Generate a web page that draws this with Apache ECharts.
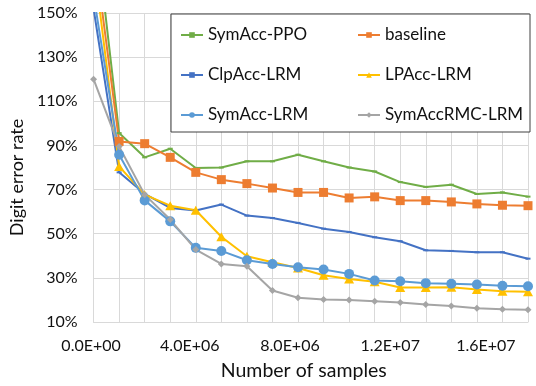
<!DOCTYPE html>
<html>
<head>
<meta charset="utf-8">
<script src="https://cdn.jsdelivr.net/npm/echarts@6/dist/echarts.min.js"></script>
<style>
html,body{margin:0;padding:0;background:#fff;}
#chart{width:536px;height:386px;}
</style>
</head>
<body>
<div id="chart"></div>
<script>
var samples = [0, 1e6, 2e6, 3e6, 4e6, 5e6, 6e6, 7e6, 8e6, 9e6, 10e6, 11e6, 12e6, 13e6, 14e6, 15e6, 16e6, 17e6];
var seriesNames = ['SymAcc-PPO', 'baseline', 'ClpAcc-LRM', 'LPAcc-LRM', 'SymAcc-LRM', 'SymAccRMC-LRM'];
var symAccPPO   = [196, 95.6, 84.6, 88.5, 79.8, 80.0, 82.8, 82.8, 85.8, 82.8, 80.0, 78.2, 73.4, 71.2, 72.2, 68.0, 68.7, 66.8];
var baseline    = [181, 91.8, 90.8, 84.6, 77.8, 74.5, 72.7, 70.7, 68.7, 68.7, 66.2, 66.7, 65.0, 65.0, 64.4, 63.5, 62.9, 62.7];
var clpAccLRM   = [152, 77.8, 68.1, 61.7, 60.5, 63.2, 58.2, 57.1, 54.9, 52.3, 50.8, 48.4, 46.6, 42.5, 42.2, 41.6, 41.6, 38.7];
var lpAccLRM    = [174, 80.5, 67.7, 62.7, 60.6, 48.6, 39.8, 37.1, 34.5, 31.2, 29.5, 28.2, 25.6, 25.6, 25.7, 24.7, 23.9, 23.7];
var symAccLRM   = [158, 85.8, 65.1, 55.6, 43.6, 42.2, 38.0, 36.3, 34.8, 33.8, 31.8, 28.8, 28.5, 27.6, 27.3, 27.0, 26.4, 26.2];
var symAccRMC   = [120, 89.5, 67.7, 56.4, 42.8, 36.3, 35.3, 24.3, 21.0, 20.2, 20.0, 19.4, 18.8, 17.9, 17.3, 16.2, 15.8, 15.5];
var yTicks = [10, 30, 50, 70, 90, 110, 130, 150];
var xLabelTicks = [0, 4e6, 8e6, 12e6, 16e6];

function pair(vals) { return samples.map(function (x, i) { return [x, vals[i]]; }); }
function sci(v) {
  var s = v.toExponential(1).toUpperCase();
  return s.replace(/E([+-])(\d)$/, 'E$10$2');
}

var FONT = 'Lato';
var TEXT = '#111';
// label nudges (right padding) to mimic the reference's label placement
var labelPad = [5, 12, 16, 20, 33];
var rich = {};
labelPad.forEach(function (p, i) {
  rich['s' + i] = { fontFamily: FONT, fontSize: 16, color: TEXT, padding: [0, p, 0, 0] };
});

var styles = [
  { data: symAccPPO, color: '#70AD47', symbol: 'rect', size: [5, 2] },
  { data: baseline,  color: '#ED7D31', symbol: 'rect', size: [9, 9] },
  { data: clpAccLRM, color: '#4472C4', symbol: 'rect', size: [5, 2] },
  { data: lpAccLRM,  color: '#FFC000', symbol: 'triangle', size: [10, 9] },
  { data: symAccLRM, color: '#5B9BD5', symbol: 'circle', size: 10 },
  { data: symAccRMC, color: '#A5A5A5', symbol: 'diamond', size: 7 }
];

var series = styles.map(function (s, i) {
  return {
    name: seriesNames[i],
    type: 'line',
    data: pair(s.data),
    symbol: s.symbol,
    symbolSize: s.size,
    showAllSymbol: true,
    clip: true,
    lineStyle: { color: s.color, width: 2 },
    itemStyle: { color: s.color },
    emphasis: { disabled: true },
    animation: false
  };
});

var legendCommon = {
  orient: 'vertical',
  top: 25,
  padding: 0,
  itemWidth: 22,
  itemHeight: 7,
  itemGap: 20,
  textStyle: { fontFamily: FONT, fontSize: 17, color: TEXT, lineHeight: 20 },
  selectedMode: false
};

var chart = echarts.init(document.getElementById('chart'));
chart.setOption({
  backgroundColor: '#fff',
  animation: false,
  grid: { left: 93, top: 13, width: 435, height: 309.5, containLabel: false },
  graphic: [{
    type: 'rect',
    shape: { x: 171, y: 14, width: 359, height: 118 },
    style: { fill: '#fff', stroke: '#404040', lineWidth: 1 },
    z: 90
  }],
  legend: [
    Object.assign({ left: 180, data: [seriesNames[0], seriesNames[2], seriesNames[4]], z: 100 }, legendCommon),
    Object.assign({ left: 357, data: [seriesNames[1], seriesNames[3], seriesNames[5]], z: 100 }, legendCommon)
  ],
  xAxis: {
    type: 'value',
    min: 0,
    max: 17e6,
    interval: 1e6,
    name: 'Number of samples',
    nameLocation: 'middle',
    nameGap: 39,
    nameTextStyle: { fontFamily: FONT, fontSize: 19.5, color: TEXT, padding: [0, 14, 0, 0] },
    axisLine: { show: true, lineStyle: { color: '#d9d9d9' } },
    axisTick: { show: false },
    splitLine: { show: true, lineStyle: { color: '#d9d9d9', width: 1 } },
    axisLabel: {
      fontFamily: FONT, fontSize: 16, color: TEXT, margin: 16,
      rich: rich,
      formatter: function (v) {
        var k = xLabelTicks.indexOf(v);
        return k >= 0 ? '{s' + k + '|' + sci(v) + '}' : '';
      }
    }
  },
  yAxis: {
    type: 'value',
    min: yTicks[0],
    max: yTicks[yTicks.length - 1],
    interval: 20,
    name: 'Digit error rate',
    nameLocation: 'middle',
    nameGap: 53,
    nameTextStyle: { fontFamily: FONT, fontSize: 18, color: TEXT, padding: [0, 20, 0, 0] },
    axisLine: { show: true, lineStyle: { color: '#d9d9d9' } },
    axisTick: { show: false },
    splitLine: { show: true, lineStyle: { color: '#d9d9d9', width: 1 } },
    axisLabel: {
      fontFamily: FONT, fontSize: 16, color: TEXT, margin: 16,
      formatter: function (v) { return v + '%'; }
    }
  },
  series: series
});
</script>
</body>
</html>
